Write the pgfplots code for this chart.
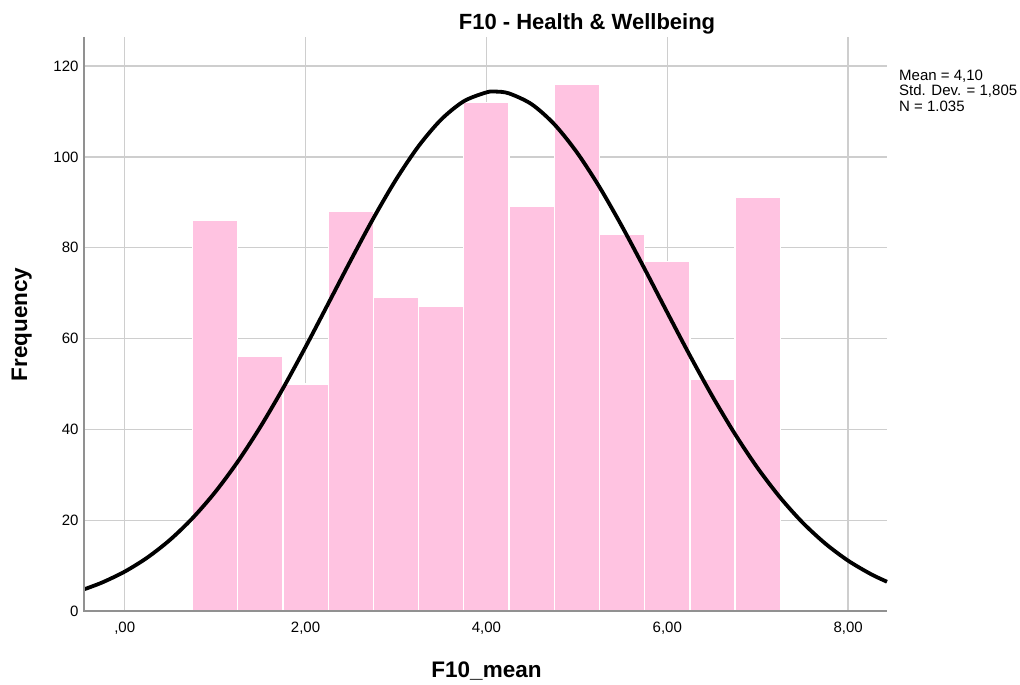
\documentclass[border=0pt]{standalone}
\usepackage{pgfplots}
\pgfplotsset{compat=1.18}
\usepackage{fontspec}
\setmainfont{Liberation Sans}
\definecolor{barpink}{RGB}{255,195,225}
\definecolor{gridgray}{RGB}{206,206,206}
\definecolor{axisgray}{RGB}{145,145,145}
\begin{document}
\begin{tikzpicture}[x=1pt,y=1pt]
\path[use as bounding box] (0,0) rectangle (1020,685);
\begin{axis}[
  at={(84pt,74pt)}, anchor=south west,
  scale only axis, width=803pt, height=574pt,
  xmin=-0.45, xmax=8.43, ymin=0, ymax=126.4,
  axis line style={draw=none},
  xtick={0,2,4,6,8},
  xticklabels={{,00},{2,00},{4,00},{6,00},{8,00}},
  ytick={20,40,60,80,100,120},
  yticklabels={20,40,60,80,100,120},
  extra y ticks={0},
  extra y tick labels={0},
  extra tick style={grid=none},
  xtick pos=bottom, ytick pos=left,
  major tick length=0pt,
  tick style={draw=none},
  tick label style={font=\fontsize{15}{18}\selectfont, text=black},
  xticklabel style={yshift=-7pt},
  yticklabel style={xshift=-2pt},
  grid=major,
  major grid style={draw=gridgray, line width=1.3pt},
  clip=false,
]
\addplot[ybar, bar width=0.5, fill=barpink, draw=white, line width=1.3pt] coordinates {
(1.0,86) (1.5,56) (2.0,50) (2.5,88) (3.0,69) (3.5,67) (4.0,112)
(4.5,89) (5.0,116) (5.5,83) (6.0,77) (6.5,51) (7.0,91)
};
\addplot[black, line width=3.8pt, smooth, no marks] coordinates {
(-0.45,4.77) (-0.25,6.27) (0,8.67) (0.25,11.76) (0.5,15.65) (0.75,20.44)
(1.0,26.17) (1.25,32.88) (1.5,40.53) (1.75,49.01) (2.0,58.14) (2.25,67.65)
(2.5,77.22) (2.75,86.47) (3.0,94.99) (3.25,102.37) (3.5,108.23) (3.75,112.25)
(4.0,114.20) (4.1,114.38) (4.25,113.98) (4.5,111.60) (4.75,107.20) (5.0,101.01)
(5.25,93.37) (5.5,84.67) (5.75,75.32) (6.0,65.73) (6.25,56.27) (6.5,47.25)
(6.75,38.93) (7.0,31.46) (7.25,24.95) (7.5,19.40) (7.75,14.81) (8.0,11.08)
(8.25,8.14) (8.43,6.44)
};
\draw[axisgray, line width=1.6pt] (rel axis cs:0,1) -- (rel axis cs:0,0) -- (rel axis cs:1,0);
\end{axis}
\node[anchor=base, font=\fontsize{22}{26}\selectfont\bfseries, inner sep=0] at (587,655) {F10 - Health \& Wellbeing};
\node[anchor=base, font=\fontsize{22.5}{26}\selectfont\bfseries, inner sep=0] at (486.5,7) {F10\_mean};
\node[anchor=base, rotate=90, font=\fontsize{22.5}{26}\selectfont\bfseries, inner sep=0] at (27,360.5) {Frequency};
\node[anchor=north west, align=left, inner sep=0, font=\fontsize{15}{15.3}\selectfont] at (899,615) {Mean = 4,10\\Std. Dev. = 1,805\\N = 1.035};
\end{tikzpicture}
\end{document}
